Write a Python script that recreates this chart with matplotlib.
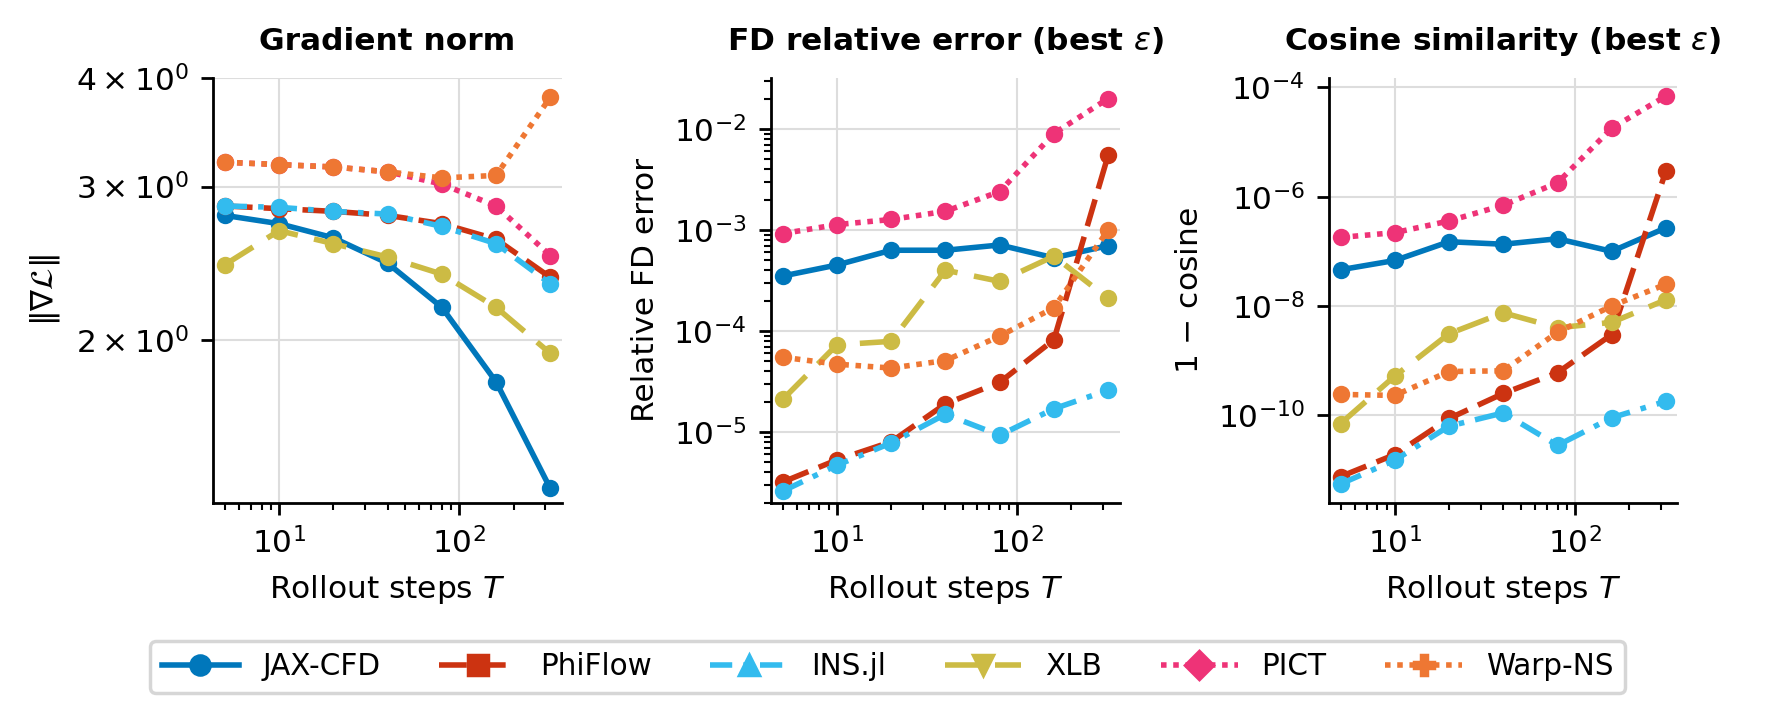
import numpy as np
import matplotlib
matplotlib.use("Agg")
import matplotlib.pyplot as plt
from matplotlib.lines import Line2D

steps = [5, 10, 20, 40, 80, 160, 320]

solvers = ["JAX-CFD", "PhiFlow", "INS.jl", "XLB", "PICT", "Warp-NS"]
colors = ["#0077BB", "#CC3311", "#33BBEE", "#CCBB44", "#EE3377", "#EE7733"]
styles = ["-", (0, (5, 2)), (0, (4, 2, 1, 2)), (0, (6, 3)), (0, (1, 1.2)), (0, (1, 1.2))]
legend_markers = ["o", "s", "^", "v", "D", "P"]

grad_norm = {
    "JAX-CFD": [2.78, 2.72, 2.62, 2.45, 2.18, 1.79, 1.35],
    "PhiFlow": [2.85, 2.83, 2.81, 2.78, 2.72, 2.61, 2.36],
    "INS.jl": [2.85, 2.84, 2.81, 2.79, 2.70, 2.58, 2.32],
    "XLB": [2.44, 2.67, 2.58, 2.49, 2.38, 2.18, 1.93],
    "PICT": [3.20, 3.18, 3.16, 3.12, 3.02, 2.85, 2.50],
    "Warp-NS": [3.20, 3.18, 3.16, 3.12, 3.07, 3.09, 3.80],
}
fd_error = {
    "JAX-CFD": [3.5e-4, 4.5e-4, 6.3e-4, 6.3e-4, 7.1e-4, 5.3e-4, 7.0e-4],
    "PhiFlow": [3.2e-6, 5.3e-6, 8.0e-6, 1.9e-5, 3.1e-5, 8.2e-5, 5.5e-3],
    "INS.jl": [2.6e-6, 4.7e-6, 7.8e-6, 1.5e-5, 9.3e-6, 1.7e-5, 2.6e-5],
    "XLB": [2.1e-5, 7.3e-5, 7.9e-5, 4.0e-4, 3.1e-4, 5.5e-4, 2.1e-4],
    "PICT": [9.2e-4, 1.13e-3, 1.27e-3, 1.53e-3, 2.4e-3, 9.0e-3, 2.0e-2],
    "Warp-NS": [5.5e-5, 4.7e-5, 4.3e-5, 5.1e-5, 8.9e-5, 1.7e-4, 1.0e-3],
}
cos_err = {
    "JAX-CFD": [4.6e-8, 6.8e-8, 1.5e-7, 1.35e-7, 1.7e-7, 1.0e-7, 2.7e-7],
    "PhiFlow": [7.5e-12, 1.9e-11, 8.7e-11, 2.5e-10, 6.0e-10, 3.0e-9, 3.0e-6],
    "INS.jl": [5.5e-12, 1.5e-11, 6.3e-11, 1.1e-10, 2.8e-11, 9.0e-11, 1.8e-10],
    "XLB": [7.0e-11, 5.2e-10, 3.1e-9, 7.5e-9, 4.0e-9, 5.0e-9, 1.3e-8],
    "PICT": [1.8e-7, 2.2e-7, 3.6e-7, 7.0e-7, 1.8e-6, 1.8e-5, 7.0e-5],
    "Warp-NS": [2.4e-10, 2.3e-10, 6.3e-10, 6.5e-10, 3.3e-9, 1.0e-8, 2.5e-8],
}

plt.rcParams["font.size"] = 9

fig, axes = plt.subplots(1, 3, figsize=(7.1, 2.832), dpi=250)
fig.subplots_adjust(left=0.12, right=0.945, top=0.89, bottom=0.29, wspace=0.6)

panels = [
    (grad_norm, "Gradient norm", r"$\|\nabla\mathcal{L}\|$"),
    (fd_error, r"FD relative error (best $\varepsilon$)", "Relative FD error"),
    (cos_err, r"Cosine similarity (best $\varepsilon$)", r"1 $-$ cosine"),
]

for ax, (data, title, ylabel) in zip(axes, panels):
    for name, c, ls in zip(solvers, colors, styles):
        ax.plot(steps, data[name], color=c, linestyle=ls, marker="o",
                markersize=4, linewidth=1.6)
    ax.set_xscale("log")
    ax.set_yscale("log")
    ax.set_title(title, fontweight="bold", fontsize=9, pad=8)
    ax.set_xlabel(r"Rollout steps $T$")
    ax.set_ylabel(ylabel)
    ax.grid(True, color="#dddddd", linewidth=0.6)
    ax.set_axisbelow(True)
    ax.spines["top"].set_visible(False)
    ax.spines["right"].set_visible(False)
    ax.set_xlim(4.3, 370)

axes[0].set_ylim(1.3, 4.0)
axes[0].set_yticks([2, 3, 4])
axes[0].set_yticklabels([r"$2\times10^{0}$", r"$3\times10^{0}$", r"$4\times10^{0}$"])
axes[0].yaxis.set_minor_formatter(matplotlib.ticker.NullFormatter())
axes[0].yaxis.set_minor_locator(matplotlib.ticker.NullLocator())
axes[1].set_ylim(2.0e-6, 3.2e-2)
axes[2].set_ylim(2.5e-12, 1.5e-4)
axes[2].yaxis.set_major_locator(matplotlib.ticker.LogLocator(base=100))

handles = [Line2D([], [], color=c, linestyle=ls, marker=m, markersize=5.5, linewidth=1.6)
           for c, ls, m in zip(colors, styles, legend_markers)]
fig.legend(handles, solvers, loc="lower center", ncol=6, bbox_to_anchor=(0.5, 0.0),
           frameon=True, edgecolor="#cccccc", handlelength=2.6, columnspacing=2.0,
           fontsize=8.5)

fig.savefig("out.png", dpi=250)
